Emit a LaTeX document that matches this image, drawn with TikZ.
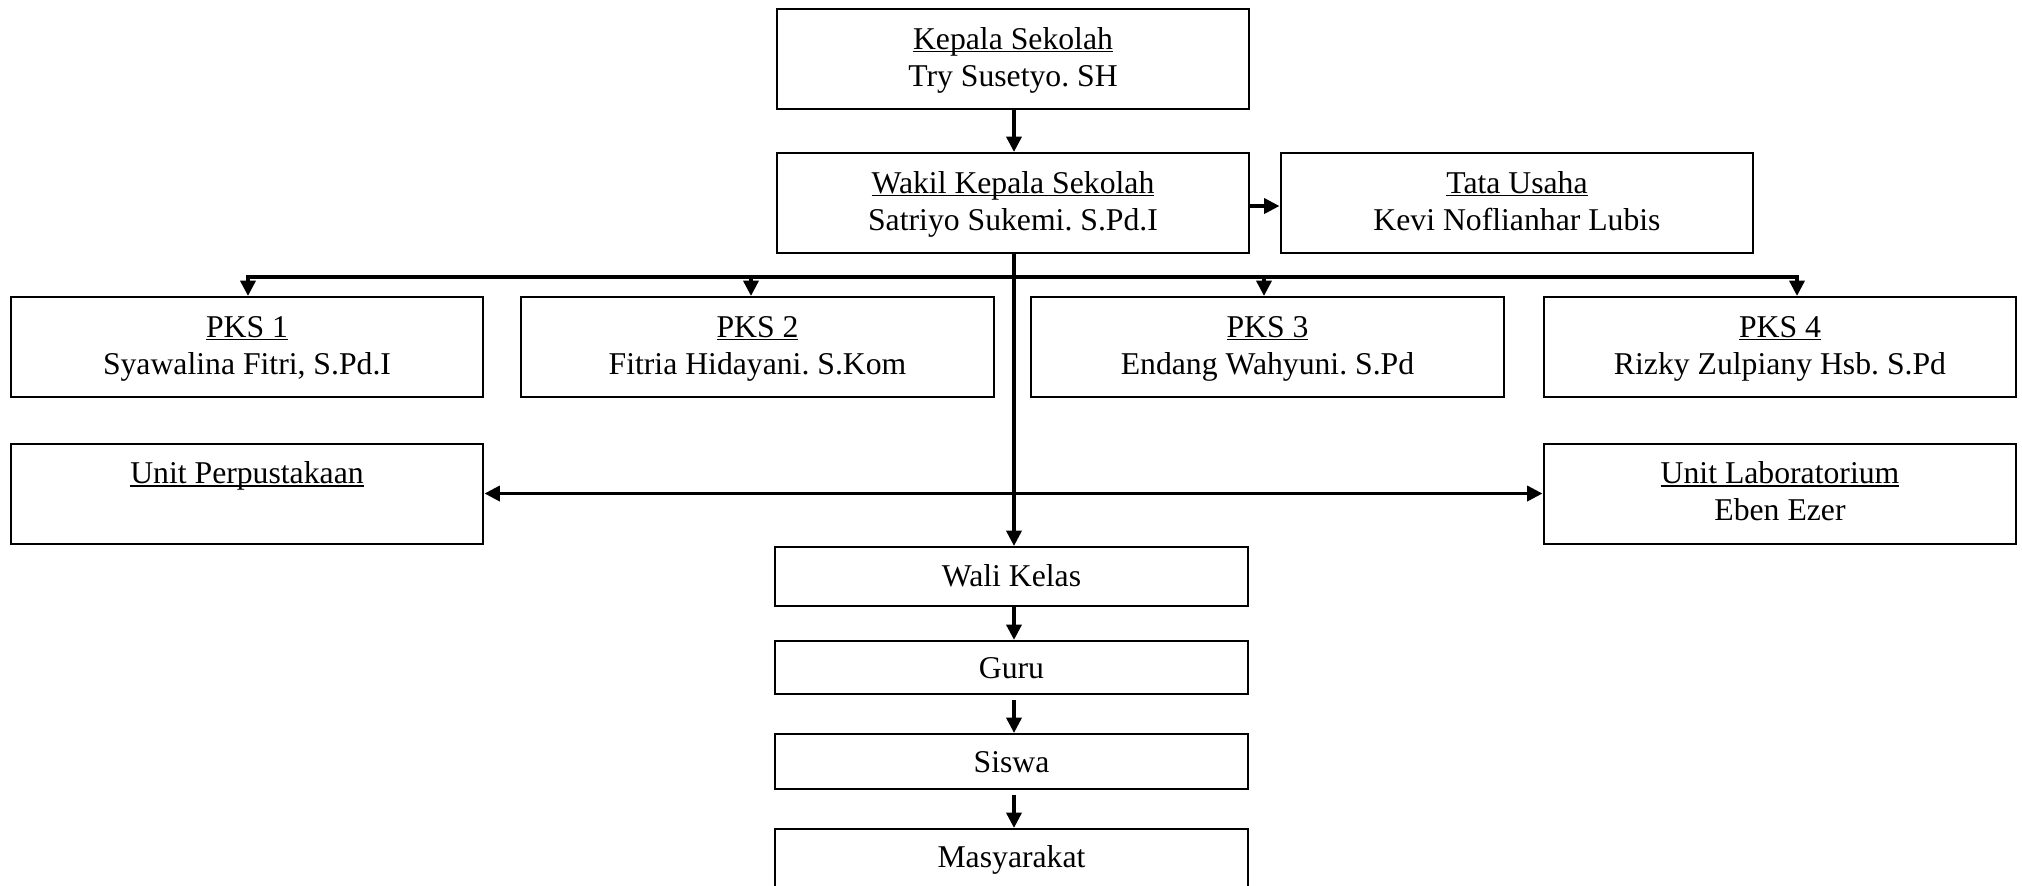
\documentclass[tikz,border=0pt]{standalone}
\usepackage{fontspec}
\setmainfont{Liberation Serif}
\usetikzlibrary{arrows.meta,calc}
\frenchspacing
\newcommand\ulx[1]{\setbox0\hbox{#1}\rlap{\rule[-1.2pt]{\wd0}{0.6pt}}\box0}
\tikzset{
  box/.style={draw, line width=0.75pt, inner sep=0pt, minimum width=179pt, minimum height=37.85pt},
  txt/.style={inner sep=0pt, anchor=base, font=\fontsize{12pt}{14pt}\selectfont},
  conn/.style={line width=1.5pt, line join=miter},
  arr/.style={conn, -{Triangle[length=5.8pt,width=5.6pt]}},
  arrs/.style={conn, {Triangle[length=5.8pt,width=5.6pt]}-{Triangle[length=5.8pt,width=5.6pt]}}
}
\begin{document}
\begin{tikzpicture}[x=0.3785pt,y=-0.3785pt]
\useasboundingbox (0,0) rectangle (2022,885);
\begin{scope}
\clip (0,0) rectangle (2022,885);
% boxes
\node[box] (kep) at (1013,59) {};
\node[box] (wak) at (1013,203) {};
\node[box] (tu) at (1517,203) {};
\node[box] (pks1) at (247,347) {};
\node[box] (pks2) at (757.5,347) {};
\node[box] (pks3) at (1267.5,347) {};
\node[box] (pks4) at (1780,347) {};
\node[box] (perp) at (247,493.5) {};
\node[box] (lab) at (1780,493.5) {};
\node[box, minimum height=22.3pt] (wali) at (1011.5,576.5) {};
\node[box, minimum height=20.1pt] (guru) at (1011.5,667.5) {};
\node[box, minimum height=20.8pt] (siswa) at (1011.5,761.5) {};
\node[box, minimum height=22.7pt] (masy) at (1011.5,859) {};
\end{scope}
% texts
\node[txt] (kepA) at ($(kep.north)+(0,41)$) {\ulx{Kepala Sekolah}};
\node[txt] (kepB) at ($(kep.north)+(0,78)$) {Try Susetyo. SH};
\node[txt] (wakA) at ($(wak.north)+(0,41)$) {\ulx{Wakil Kepala Sekolah}};
\node[txt] (wakB) at ($(wak.north)+(0,78)$) {Satriyo Sukemi. S.Pd.I};
\node[txt] (tuA) at ($(tu.north)+(0,41)$) {\ulx{Tata Usaha}};
\node[txt] (tuB) at ($(tu.north)+(0,78)$) {Kevi Noflianhar Lubis};
\node[txt] (p1A) at ($(pks1.north)+(0,41)$) {\ulx{PKS 1}};
\node[txt] (p1B) at ($(pks1.north)+(0,78)$) {Syawalina Fitri, S.Pd.I};
\node[txt] (p2A) at ($(pks2.north)+(0,41)$) {\ulx{PKS 2}};
\node[txt] (p2B) at ($(pks2.north)+(0,78)$) {Fitria Hidayani. S.Kom};
\node[txt] (p3A) at ($(pks3.north)+(0,41)$) {\ulx{PKS 3}};
\node[txt] (p3B) at ($(pks3.north)+(0,78)$) {Endang Wahyuni. S.Pd};
\node[txt] (p4A) at ($(pks4.north)+(0,41)$) {\ulx{PKS 4}};
\node[txt] (p4B) at ($(pks4.north)+(0,78)$) {Rizky Zulpiany Hsb. S.Pd};
\node[txt] (perpA) at ($(perp.north)+(0,41)$) {\ulx{Unit Perpustakaan}};
\node[txt] (labA) at ($(lab.north)+(0,41)$) {\ulx{Unit Laboratorium}};
\node[txt] (labB) at ($(lab.north)+(0,78)$) {Eben Ezer};
\node[txt] (waliA) at ($(wali.north)+(0,40)$) {Wali Kelas};
\node[txt] (guruA) at ($(guru.north)+(0,39)$) {Guru};
\node[txt] (siswaA) at ($(siswa.north)+(0,39)$) {Siswa};
\node[txt] (masyA) at ($(masy.north)+(0,39)$) {Masyarakat};
% connectors
\coordinate (b1) at (248,277);
\coordinate (b2) at (751,277);
\coordinate (b3) at (1264,277);
\coordinate (b4) at (1797,277);
\coordinate (vx) at (1014,0);
\draw[arr] (kep.south -| vx) -- (wak.north -| vx);
\draw[arr] ($(wak.east)+(0,3)$) -- ($(tu.west)+(0,3)$);
\draw[arrs] (b1 |- pks1.north) -- (b1) -- (b4) -- (b4 |- pks4.north);
\draw[arr] (b2) -- (b2 |- pks2.north);
\draw[arr] (b3) -- (b3 |- pks3.north);
\draw[arr] (wak.south -| vx) -- (wali.north -| vx);
\draw[arrs] (perp.east) -- (lab.west);
\draw[arr] (wali.south -| vx) -- (guru.north -| vx);
\draw[arr] ($(guru.south -| vx)+(0,5)$) -- (siswa.north -| vx);
\draw[arr] ($(siswa.south -| vx)+(0,5)$) -- (masy.north -| vx);
\end{tikzpicture}
\end{document}
